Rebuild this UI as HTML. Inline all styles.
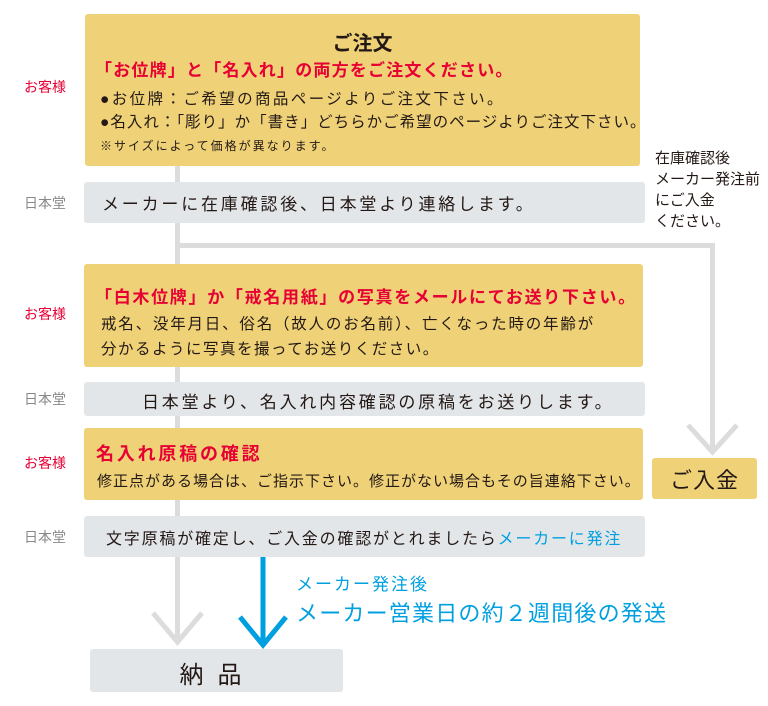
<!DOCTYPE html>
<html><head><meta charset="utf-8"><style>
body{margin:0;width:768px;height:706px;background:#fff;position:relative;overflow:hidden;font-family:"Liberation Sans","Noto Sans CJK JP",sans-serif;color:#231815}
.a{position:absolute}
.y{background:#efd277;border-radius:3px}
.g{background:#e3e6e8;border-radius:3px}
.l{position:absolute;font-size:14px;left:24px}
.r{color:#e60033}
.n{color:#888}
.t{position:absolute;white-space:nowrap}
</style></head><body>
<div class="a" style="left:175px;top:160px;width:5px;height:482px;background:#dcdcdc"></div>
<div class="a" style="left:175px;top:243px;width:540px;height:5px;background:#dcdcdc"></div>
<div class="a" style="left:710px;top:243px;width:5px;height:205px;background:#dcdcdc"></div>
<svg class="a" style="left:0;top:0" width="768" height="706">
<polyline points="688,425 712.5,452 737,425" fill="none" stroke="#dcdcdc" stroke-width="5"/>
<polyline points="153,613 177.5,642 202,613" fill="none" stroke="#dcdcdc" stroke-width="5"/>
<line x1="263" y1="557" x2="263" y2="645" stroke="#00a0e0" stroke-width="5"/>
<polyline points="240,617 263,645 286,617" fill="none" stroke="#00a0e0" stroke-width="5"/>
</svg>
<div class="a y" style="left:85px;top:14px;width:555px;height:152px"></div>
<div class="t" style="left:0;width:725px;text-align:center;top:27px;font-size:20px;font-weight:bold">ご注文</div>
<div class="t r" style="left:95px;top:56px;font-size:17px;font-weight:bold;letter-spacing:1.2px">「お位牌」と「名入れ」の両方をご注文ください。</div>
<div class="t" style="left:100px;top:87px;font-size:15.5px;letter-spacing:2.4px">●お位牌：ご希望の商品ページよりご注文下さい。</div>
<div class="t" style="left:100px;top:110px;font-size:15.5px;letter-spacing:1px">●名入れ：「彫り」か「書き」どちらかご希望のページよりご注文下さい。</div>
<div class="t" style="left:100px;top:137px;font-size:12px;letter-spacing:2px">※サイズによって価格が異なります。</div>
<div class="l r" style="top:77px">お客様</div>
<div class="a g" style="left:84px;top:182px;width:561px;height:41px"></div>
<div class="t" style="left:102px;top:190px;font-size:17px;letter-spacing:2.8px">メーカーに在庫確認後、日本堂より連絡します。</div>
<div class="l n" style="top:193px">日本堂</div>
<div class="t" style="left:655px;top:148px;font-size:15px;line-height:21px">在庫確認後<br>メーカー発注前<br>にご入金<br>ください。</div>
<div class="a y" style="left:84px;top:264px;width:559px;height:103px"></div>
<div class="t r" style="left:95px;top:283px;font-size:17px;font-weight:bold;letter-spacing:1.7px">「白木位牌」か「戒名用紙」の写真をメールにてお送り下さい。</div>
<div class="t" style="left:101px;top:312px;font-size:15.5px;letter-spacing:1.8px">戒名、没年月日、俗名（故人のお名前）、亡くなった時の年齢が</div>
<div class="t" style="left:101px;top:337px;font-size:15.5px;letter-spacing:1.5px">分かるように写真を撮ってお送りください。</div>
<div class="l r" style="top:304px">お客様</div>
<div class="a g" style="left:84px;top:382px;width:561px;height:34px"></div>
<div class="t" style="left:142px;top:388px;font-size:17px;letter-spacing:2.8px">日本堂より、名入れ内容確認の原稿をお送りします。</div>
<div class="l n" style="top:389px">日本堂</div>
<div class="a y" style="left:84px;top:428px;width:559px;height:72px"></div>
<div class="t r" style="left:96px;top:440px;font-size:18px;font-weight:bold;letter-spacing:2.8px">名入れ原稿の確認</div>
<div class="t" style="left:97px;top:470px;font-size:15px;letter-spacing:1px">修正点がある場合は、ご指示下さい。修正がない場合もその旨連絡下さい。</div>
<div class="l r" style="top:453px">お客様</div>
<div class="a y" style="left:652px;top:458px;width:105px;height:41px"></div>
<div class="t" style="left:652px;width:105px;text-align:center;top:463px;font-size:22px;letter-spacing:1px">ご入金</div>
<div class="a g" style="left:84px;top:516px;width:561px;height:41px"></div>
<div class="t" style="left:106px;top:525px;font-size:16px;letter-spacing:1.8px">文字原稿が確定し、ご入金の確認がとれましたら<span style="color:#00a0e0">メーカーに発注</span></div>
<div class="l n" style="top:527px">日本堂</div>
<div class="t" style="left:296px;top:570px;font-size:17px;letter-spacing:2px;color:#00a0e0">メーカー発注後</div>
<div class="t" style="left:296px;top:596px;font-size:22px;letter-spacing:1.2px;color:#00a0e0">メーカー営業日の約２週間後の発送</div>
<div class="a g" style="left:90px;top:649px;width:253px;height:43px"></div>
<div class="t" style="left:84px;width:253px;text-align:center;top:655px;font-size:24px;letter-spacing:14px;text-indent:14px">納品</div>
</body></html>
